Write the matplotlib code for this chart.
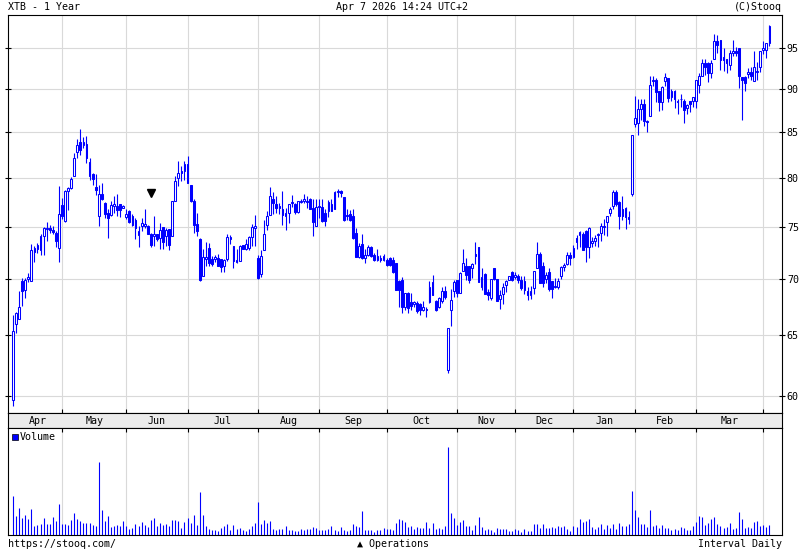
import numpy as np
import matplotlib
matplotlib.use("Agg")
import matplotlib.pyplot as plt
from matplotlib.ticker import NullLocator, NullFormatter

BLUE = "#0000ff"
GRID = "#d9d9d9"

# daily candles XTB, Apr 7 2025 .. Apr 7 2026 (one value per session)
opens = [59.7, 66.0, 66.4, 69.8, 69.0, 70.0, 69.8, 72.6, 72.8, 72.7,
         74.1, 74.8, 74.9, 74.7, 74.4, 72.9, 77.2, 75.6, 78.6, 79.0,
         80.2, 82.8, 83.9, 83.6, 83.7, 81.7, 80.4, 79.1, 76.1, 78.3,
         77.4, 76.4, 76.2, 77.1, 77.1, 77.3, 76.9, 76.0, 76.6, 76.1,
         75.7, 74.2, 75.1, 75.1, 75.1, 74.3, 74.1, 74.3, 73.9, 75.0,
         74.1, 74.8, 74.1, 77.6, 80.0, 80.8, 80.8, 81.5, 79.3, 77.6,
         75.3, 73.8, 70.3, 71.9, 72.9, 71.9, 71.9, 72.0, 71.9, 71.2,
         71.9, 73.8, 73.1, 71.6, 71.7, 73.2, 72.8, 72.9, 74.0, 74.9,
         72.0, 70.5, 72.7, 75.2, 76.2, 77.8, 77.3, 76.9, 76.8, 76.1,
         76.4, 77.4, 77.3, 76.5, 77.5, 77.6, 77.6, 77.8, 76.9, 75.1,
         77.0, 77.0, 76.4, 76.6, 77.3, 76.8, 78.5, 78.6, 78.0, 76.2,
         76.3, 76.1, 74.4, 72.1, 73.3, 72.0, 72.3, 73.0, 72.3, 71.8,
         72.0, 71.8, 71.8, 72.0, 71.8, 71.5, 69.8, 69.9, 67.5, 68.7,
         67.9, 67.7, 67.8, 67.7, 67.2, 67.3, 67.9, 69.7, 68.0, 67.5,
         68.0, 68.9, 62.1, 67.2, 68.9, 69.9, 68.7, 70.8, 71.2, 71.2,
         71.0, 72.4, 73.0, 69.3, 70.5, 68.8, 68.3, 71.0, 70.0, 68.2,
         68.6, 69.5, 69.9, 70.7, 70.2, 70.3, 69.9, 69.8, 68.9, 68.5,
         69.2, 71.0, 72.4, 71.2, 70.0, 70.7, 69.8, 69.3, 69.3, 70.3,
         71.1, 71.4, 72.3, 72.1, 73.9, 74.2, 74.3, 74.6, 73.0, 73.4,
         73.6, 74.2, 74.4, 75.0, 75.5, 76.4, 77.1, 78.5, 77.5, 76.8,
         76.9, 76.0, 78.3, 85.9, 86.0, 87.6, 88.2, 86.1, 86.8, 91.0,
         91.1, 89.7, 88.4, 90.9, 91.3, 89.1, 89.8, 88.4, 88.8, 88.6,
         87.7, 88.6, 88.6, 88.6, 90.5, 91.6, 93.1, 93.1, 91.9, 93.6,
         95.9, 96.0, 93.9, 93.6, 92.9, 94.4, 94.6, 95.0, 91.4, 91.4,
         91.8, 92.0, 91.0, 92.0, 92.6, 94.8, 94.8, 95.6]
highs = [66.8, 67.0, 68.9, 70.1, 70.1, 70.6, 73.3, 73.1, 73.4, 74.3,
         75.0, 75.5, 75.2, 75.1, 74.6, 79.2, 77.9, 78.7, 79.1, 80.1,
         82.7, 84.2, 85.4, 84.5, 84.6, 82.2, 80.5, 80.4, 79.3, 79.5,
         77.5, 76.8, 77.6, 78.1, 78.3, 77.3, 77.2, 76.8, 76.7, 76.3,
         75.9, 75.1, 75.9, 76.8, 75.2, 74.4, 76.1, 74.3, 75.4, 75.0,
         74.9, 74.8, 77.6, 80.2, 81.8, 81.3, 81.8, 82.4, 79.3, 77.8,
         76.4, 73.9, 72.8, 73.5, 73.4, 72.2, 72.3, 72.4, 71.9, 71.9,
         74.3, 74.2, 73.1, 72.8, 73.2, 73.2, 73.8, 74.1, 75.3, 76.2,
         72.3, 72.7, 75.7, 76.6, 79.1, 78.5, 78.1, 77.4, 78.6, 76.9,
         77.3, 78.2, 77.4, 77.6, 77.8, 78.3, 78.1, 77.9, 77.8, 77.8,
         77.8, 77.8, 76.8, 77.7, 77.8, 78.6, 78.8, 78.7, 78.0, 76.8,
         76.7, 76.8, 74.9, 73.4, 74.3, 72.8, 73.2, 73.1, 72.5, 72.8,
         72.3, 72.4, 72.0, 72.1, 72.1, 71.5, 69.9, 70.2, 68.7, 68.8,
         68.7, 68.0, 68.0, 67.8, 68.0, 67.5, 69.8, 70.4, 68.1, 68.4,
         69.3, 69.4, 65.6, 69.1, 69.9, 69.9, 70.7, 72.8, 72.0, 71.2,
         71.5, 73.5, 73.0, 71.0, 70.6, 69.1, 70.0, 71.0, 70.0, 69.0,
         69.6, 69.9, 70.3, 70.8, 70.7, 70.5, 70.3, 70.3, 69.3, 69.4,
         70.8, 73.5, 72.6, 71.6, 70.7, 71.0, 69.8, 70.1, 70.1, 71.2,
         71.5, 72.6, 72.6, 73.2, 74.2, 74.6, 74.5, 74.7, 75.0, 74.0,
         74.2, 74.4, 75.4, 75.8, 76.1, 77.0, 78.7, 78.7, 77.6, 78.1,
         77.0, 76.6, 84.7, 89.2, 88.8, 88.8, 88.8, 86.4, 91.6, 91.5,
         91.3, 89.7, 90.4, 91.9, 91.3, 90.0, 89.9, 88.8, 89.4, 88.8,
         88.2, 88.6, 89.1, 91.1, 91.9, 93.6, 93.6, 93.3, 93.5, 96.8,
         96.7, 96.0, 95.0, 93.6, 94.8, 96.0, 95.1, 95.0, 91.4, 91.5,
         92.5, 92.7, 94.6, 93.3, 94.6, 95.9, 95.6, 97.9]
lows = [59.2, 65.2, 66.4, 67.6, 68.3, 69.7, 69.8, 71.6, 72.5, 72.3,
        72.3, 73.6, 74.4, 74.3, 73.0, 71.6, 75.8, 75.5, 76.7, 78.9,
        80.2, 82.1, 82.5, 83.2, 81.6, 79.8, 79.3, 78.2, 75.1, 77.7,
        75.9, 73.9, 76.1, 76.4, 76.1, 76.0, 76.9, 75.8, 75.4, 75.1,
        73.8, 73.0, 74.6, 74.9, 74.3, 73.0, 73.1, 73.6, 72.8, 72.8,
        73.1, 72.7, 74.1, 77.6, 79.2, 79.7, 79.8, 79.5, 77.5, 74.4,
        74.1, 69.8, 70.3, 71.2, 71.2, 71.2, 71.6, 71.2, 70.7, 70.7,
        71.7, 73.3, 71.0, 71.5, 71.7, 72.8, 72.7, 72.7, 73.1, 73.1,
        70.0, 70.2, 72.7, 74.7, 76.2, 76.3, 76.4, 76.3, 75.2, 74.7,
        75.4, 77.0, 76.3, 76.4, 77.4, 77.4, 76.9, 76.8, 74.1, 75.1,
        75.9, 75.5, 75.1, 76.0, 76.6, 76.8, 78.0, 78.0, 75.6, 75.7,
        75.6, 73.8, 72.1, 72.0, 71.9, 71.5, 72.2, 72.1, 71.7, 71.7,
        71.6, 71.7, 71.2, 71.2, 70.6, 69.0, 67.5, 66.9, 67.2, 66.9,
        67.2, 67.5, 66.9, 66.8, 67.1, 66.6, 67.8, 68.5, 67.1, 67.4,
        67.8, 68.2, 61.8, 65.8, 68.4, 68.4, 68.7, 70.8, 69.9, 69.6,
        70.1, 71.4, 69.7, 69.0, 68.6, 68.1, 68.1, 69.9, 68.0, 67.3,
        67.7, 68.8, 69.9, 69.8, 70.0, 69.6, 69.0, 68.6, 68.1, 68.2,
        68.6, 71.0, 69.6, 69.3, 69.6, 68.9, 68.3, 69.2, 69.1, 70.0,
        70.8, 71.3, 71.3, 72.0, 72.8, 73.0, 72.7, 71.6, 72.0, 73.0,
        73.1, 73.0, 73.6, 74.2, 74.1, 76.1, 76.8, 77.1, 74.8, 75.7,
        74.8, 75.3, 78.1, 85.6, 84.7, 86.4, 85.7, 85.0, 86.8, 90.3,
        88.4, 87.4, 87.5, 90.3, 88.4, 88.6, 87.8, 87.1, 87.9, 86.0,
        87.1, 87.3, 87.9, 87.8, 89.5, 91.5, 91.7, 90.8, 91.3, 93.6,
        94.4, 92.3, 92.1, 91.9, 92.3, 94.0, 94.0, 90.1, 86.4, 89.8,
        91.3, 91.1, 91.0, 91.1, 92.0, 94.2, 93.7, 95.2]
closes = [65.4, 66.9, 67.5, 68.9, 69.9, 70.2, 72.7, 72.9, 73.2, 74.1,
          74.9, 74.9, 74.7, 74.5, 73.6, 76.3, 76.1, 78.6, 79.0, 79.9,
          82.1, 83.6, 83.0, 83.9, 82.1, 80.2, 79.9, 78.7, 78.3, 77.8,
          76.3, 75.9, 77.2, 77.3, 76.7, 76.7, 77.1, 76.3, 75.5, 75.2,
          74.9, 74.6, 75.4, 75.3, 74.3, 73.2, 74.3, 73.8, 74.7, 73.5,
          74.7, 73.2, 77.6, 79.7, 80.5, 80.5, 81.5, 79.5, 77.6, 75.2,
          74.6, 69.9, 72.1, 72.1, 71.5, 71.4, 72.1, 71.2, 71.1, 71.8,
          74.0, 74.0, 71.7, 71.8, 73.1, 72.8, 73.3, 74.0, 75.0, 75.1,
          70.1, 72.2, 74.3, 76.1, 78.1, 77.4, 76.9, 77.1, 76.2, 76.4,
          77.3, 77.5, 76.5, 77.6, 77.6, 77.8, 77.5, 76.8, 75.5, 77.0,
          77.1, 75.6, 75.6, 77.5, 76.6, 78.5, 78.6, 78.4, 75.7, 76.1,
          75.7, 73.9, 72.1, 73.1, 72.0, 72.3, 73.0, 72.2, 71.8, 72.2,
          71.8, 72.2, 71.3, 71.3, 70.7, 69.0, 69.0, 67.5, 68.7, 67.4,
          67.6, 67.9, 67.1, 67.2, 67.5, 67.2, 69.3, 68.5, 67.2, 68.3,
          68.9, 68.4, 65.6, 68.1, 69.7, 68.7, 70.6, 71.5, 70.4, 69.9,
          71.4, 72.2, 69.7, 70.2, 68.6, 68.5, 70.0, 70.0, 68.0, 68.5,
          69.3, 69.8, 70.3, 69.9, 70.4, 69.9, 69.2, 69.0, 68.5, 68.9,
          70.8, 72.4, 69.6, 69.6, 70.4, 69.1, 69.1, 69.4, 69.8, 71.1,
          71.3, 72.3, 72.0, 72.9, 73.5, 74.5, 72.7, 73.0, 74.9, 73.6,
          73.9, 74.3, 75.1, 75.1, 76.1, 76.8, 78.5, 77.3, 76.1, 76.1,
          76.0, 75.8, 84.7, 86.6, 87.6, 88.2, 86.3, 86.3, 90.5, 91.1,
          89.6, 88.4, 90.2, 91.4, 88.9, 89.7, 88.8, 88.6, 88.8, 87.5,
          88.1, 88.2, 89.0, 91.1, 91.6, 93.1, 92.7, 91.9, 93.1, 95.9,
          95.4, 93.5, 93.5, 93.1, 94.4, 94.6, 94.4, 91.5, 91.1, 90.7,
          92.0, 91.5, 92.7, 92.2, 94.6, 95.0, 95.6, 97.8]
# volume, thousands of shares
volume = [39, 19, 27, 17, 20, 16, 26, 9, 10, 11,
          17, 11, 11, 18, 14, 31, 11, 11, 10, 15,
          22, 16, 14, 12, 12, 12, 10, 9, 73, 25,
          14, 19, 8, 9, 10, 9, 14, 9, 6, 7,
          11, 9, 13, 10, 8, 15, 17, 9, 12, 10,
          11, 9, 15, 15, 14, 7, 13, 17, 12, 20,
          10, 43, 20, 9, 6, 5, 5, 4, 7, 9,
          11, 5, 10, 6, 7, 5, 4, 6, 9, 12,
          33, 11, 15, 12, 14, 6, 5, 6, 6, 9,
          5, 5, 4, 4, 6, 5, 6, 6, 8, 7,
          5, 5, 5, 6, 9, 5, 4, 8, 5, 4,
          5, 11, 9, 8, 24, 5, 5, 5, 3, 5,
          5, 7, 6, 6, 5, 12, 16, 15, 13, 8,
          9, 6, 8, 7, 7, 13, 7, 12, 6, 7,
          6, 9, 88, 22, 17, 10, 13, 15, 9, 9,
          5, 10, 18, 8, 5, 6, 5, 3, 7, 6,
          6, 6, 4, 4, 6, 5, 3, 6, 4, 4,
          11, 11, 7, 11, 7, 7, 8, 7, 9, 8,
          9, 6, 4, 9, 8, 16, 13, 14, 16, 8,
          6, 8, 11, 6, 10, 7, 11, 6, 12, 9,
          9, 11, 44, 25, 18, 11, 11, 8, 25, 9,
          10, 7, 10, 7, 7, 5, 6, 5, 8, 7,
          5, 5, 9, 13, 19, 18, 10, 12, 16, 18,
          11, 9, 7, 8, 12, 6, 7, 23, 16, 7,
          8, 7, 13, 14, 9, 10, 8, 10]

months = ["Apr", "May", "Jun", "Jul", "Aug", "Sep", "Oct",
          "Nov", "Dec", "Jan", "Feb", "Mar", "Apr"]
month_days = [16, 21, 20, 23, 20, 22, 23, 19, 19, 20, 20, 22, 3]
price_ticks = [60, 65, 70, 75, 80, 85, 90, 95]
event_day = 45        # operation marker
event_price = 78.4

plt.rcParams["font.family"] = ["DejaVu Sans Mono", "DejaVu Sans"]
plt.rcParams["font.size"] = 7.2

n = len(closes)
days = np.arange(n)
o, h, l, c = (np.array(v) for v in (opens, highs, lows, closes))
up = c >= o
starts = np.concatenate([[0], np.cumsum(month_days)[:-1]])
mid = (starts[:-1] + starts[1:]) / 2
xlim = (-1.63, 251.1)

W, H = 800, 550
fig = plt.figure(figsize=(W / 100, H / 100), dpi=100)


def px_axes(x0, y0, x1, y1):
    return fig.add_axes([x0 / W, 1 - y1 / H, (x1 - x0) / W, (y1 - y0) / H])


ax = px_axes(8, 15, 782, 413)
strip = px_axes(8, 413, 782, 428)
axv = px_axes(8, 428, 782, 535)

# price panel
ax.vlines(days, l, h, color=BLUE, lw=0.8, zorder=3)
ax.bar(days, np.abs(c - o), bottom=np.minimum(o, c), width=0.6,
       color=np.where(up, "white", BLUE), edgecolor=BLUE, linewidth=0.75, zorder=4)
ax.plot(event_day, event_price, marker="v", color="black", ms=6, zorder=5)
ax.set_yscale("log")
ax.set_ylim(58.65, 99.23)
ax.set_xlim(*xlim)
ax.set_yticks(price_ticks, [str(t) for t in price_ticks])
ax.yaxis.set_minor_locator(NullLocator())
ax.yaxis.set_minor_formatter(NullFormatter())
ax.set_xticks(starts[1:])
ax.tick_params(axis="y", left=True, right=True, labelleft=False, labelright=True,
               direction="inout", length=5, width=0.8, pad=1)
ax.tick_params(axis="x", direction="in", length=3, width=0.8, labelbottom=False)
ax.grid(True, color=GRID, lw=0.8)
ax.set_axisbelow(True)

# month strip
strip.set_facecolor("#ebebeb")
strip.set_xlim(*xlim)
strip.set_ylim(0, 1)
strip.set_xticks([])
strip.set_yticks([])
for pos, name in zip(mid, months[:-1]):
    strip.text(pos, 0.45, name, ha="center", va="center")

# volume panel
axv.vlines(days, 0, volume, color=BLUE, lw=0.8, zorder=3)
axv.set_xlim(*xlim)
axv.set_ylim(0, max(volume) * 1.215)
axv.set_xticks(starts[1:])
axv.set_yticks([])
axv.tick_params(axis="x", direction="in", length=3, width=0.8, top=True, bottom=False,
                labelbottom=False)
axv.grid(True, axis="x", color=GRID, lw=0.8)
axv.set_axisbelow(True)
axv.plot([0.0085], [0.915], marker="s", ms=4.5, mfc=BLUE, mec="black", mew=0.5,
         transform=axv.transAxes, clip_on=False)
axv.text(0.0155, 0.915, "Volume", transform=axv.transAxes, ha="left", va="center")

for a in (ax, strip, axv):
    for s in a.spines.values():
        s.set_linewidth(0.8)
        s.set_color("black")

fig.text(8 / W, 1 - 7 / H, "XTB - 1 Year", ha="left", va="center")
fig.text(402 / W, 1 - 7 / H, "Apr 7 2026 14:24 UTC+2", ha="center", va="center")
fig.text(782 / W, 1 - 7 / H, "(C)Stooq", ha="right", va="center")
fig.text(8 / W, 1 - 544 / H, "https://stooq.com/", ha="left", va="center")
fig.text(393 / W, 1 - 544 / H, "\u25b2 Operations", ha="center", va="center")
fig.text(782 / W, 1 - 544 / H, "Interval Daily", ha="right", va="center")

fig.savefig("out.png", dpi=100, facecolor="white")
